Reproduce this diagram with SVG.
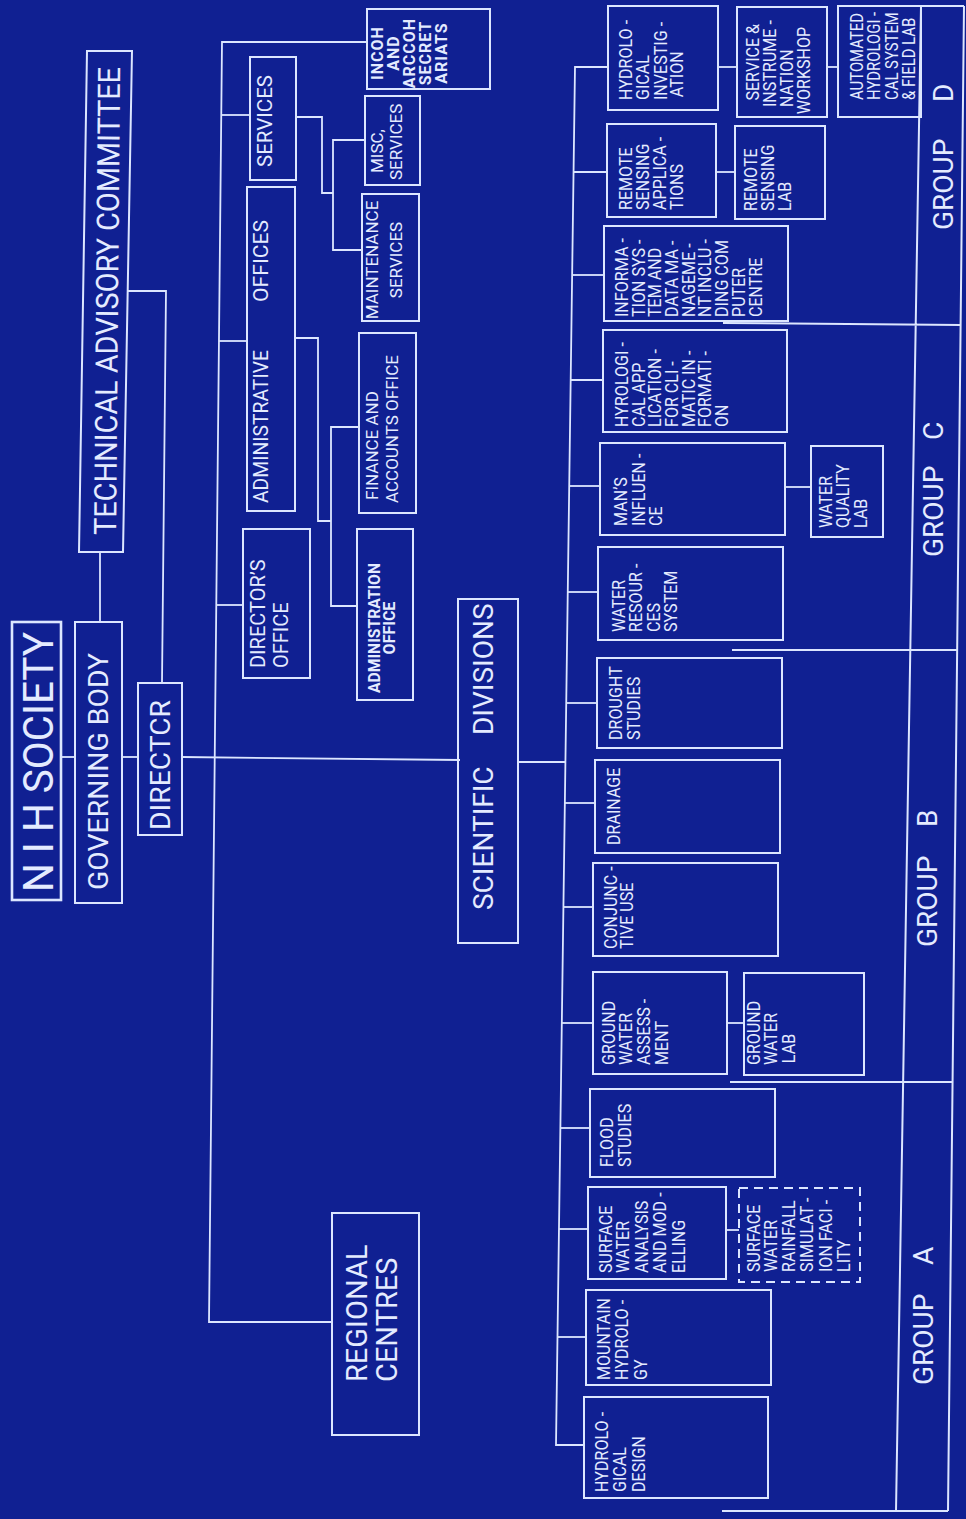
<svg xmlns="http://www.w3.org/2000/svg" width="966" height="1519" viewBox="0 0 966 1519">
<style>
.bg{fill:#102092}
.b{fill:none;stroke:#dce6ff;stroke-width:2}
.dash{stroke-dasharray:9 6}
.k{fill:none;stroke:#dce6ff;stroke-width:1.8}
text{font-family:Roboto,"Liberation Sans",Arial,sans-serif;fill:#e4ebff}
.s{font-size:17.5px}
.m{font-size:17px}
.l{font-size:28px}
.c{text-anchor:middle}
.w{font-weight:bold}
</style>
<rect class="bg" x="0" y="0" width="966" height="1519"/>

<g id="connectors" class="k">
<path d="M61,757 H75"/>
<path d="M122,757 H138"/>
<path d="M100,622 V552"/>
<path d="M128,291 H166 L162,683"/>
<path d="M182,757 L460,760"/>
<path d="M366,42 H222 L209,1322 H333"/>
<path d="M221,115 H250"/>
<path d="M219,341 H247"/>
<path d="M216,605 H243"/>
<path d="M296,117 H322 V193 H333"/>
<path d="M365,140 H333 V250 H362"/>
<path d="M295,338 H318 V521 H331"/>
<path d="M359,427 H331 V606 H357"/>
<path d="M608,67 H575 L556,1445 H584"/>
<path d="M573.6,172 H607"/>
<path d="M572.1,275 H604"/>
<path d="M570.7,380 H603"/>
<path d="M569.2,486 H600"/>
<path d="M567.8,592 H598"/>
<path d="M566.2,703 H597"/>
<path d="M518,762 H565.4"/>
<path d="M564.9,803 H595"/>
<path d="M563.4,907 H593"/>
<path d="M561.8,1023 H593"/>
<path d="M560.4,1128 H590"/>
<path d="M559,1229 H588"/>
<path d="M557.5,1337 H586"/>
<path d="M718,67 H737"/>
<path d="M827,67 H838"/>
<path d="M716,172 H735"/>
<path d="M785,487 H811"/>
<path d="M727,1023 H744"/>
<path d="M726,1230 H739"/>
</g>

<g id="group-frame">
<path class="b" d="M838,6 H964 M921,6 L896,1511 M964,6 L948,1511 M722,1511 H948 M723,323 L961,325 M732,650 H957 M730,1082 H952"/>
<text class="l" transform="translate(953,230) rotate(-90)"><tspan x="0">GROUP</tspan><tspan x="128">D</tspan></text>
<text class="l" transform="translate(943,557) rotate(-90)"><tspan x="0">GROUP</tspan><tspan x="117">C</tspan></text>
<text class="l" transform="translate(937,947) rotate(-90)"><tspan x="0">GROUP</tspan><tspan x="120">B</tspan></text>
<text class="l" transform="translate(933,1385) rotate(-90)"><tspan x="0">GROUP</tspan><tspan x="120">A</tspan></text>
</g>

<g id="nih-society"><rect class="b" x="12" y="622" width="49" height="278" style="stroke-width:2.6"/><text transform="translate(53,892) rotate(-90)" font-size="42" textLength="260" lengthAdjust="spacingAndGlyphs">N I H SOCIETY</text></g>
<g id="governing-body"><rect class="b" x="75" y="622" width="47" height="281"/><text class="l" transform="translate(108,890) rotate(-90)" textLength="237" lengthAdjust="spacingAndGlyphs">GOVERNING BODY</text></g>
<g id="director"><rect class="b" x="138" y="683" width="44" height="152"/><text class="l" transform="translate(170,830) rotate(-90)" textLength="130" lengthAdjust="spacingAndGlyphs">DIRECTCR</text></g>
<g id="technical-advisory-committee"><path class="b" d="M87,51 H132 L123,552 H79 Z"/><text transform="translate(116,535) rotate(-89.5)" font-size="31" textLength="468" lengthAdjust="spacingAndGlyphs">TECHNICAL ADVISORY COMMITTEE</text></g>

<g id="services"><rect class="b" x="250" y="57" width="46" height="123"/><text transform="translate(272,167) rotate(-90)" font-size="21" textLength="92" lengthAdjust="spacingAndGlyphs">SERVICES</text></g>
<g id="administrative-offices"><rect class="b" x="247" y="187" width="48" height="324"/><text transform="translate(268,503) rotate(-90)" font-size="21" textLength="153" lengthAdjust="spacingAndGlyphs">ADMINISTRATIVE</text><text transform="translate(268,302) rotate(-90)" font-size="21" textLength="82" lengthAdjust="spacingAndGlyphs">OFFICES</text></g>
<g id="directors-office"><rect class="b" x="243" y="529" width="67" height="149"/><text transform="translate(265,668) rotate(-90)" font-size="20"><tspan x="0" y="0">DIRECTOR&#8217;S</tspan><tspan x="0" y="23">OFFICE</tspan></text></g>
<g id="incoh-arccoh"><rect class="b" x="367" y="9" width="123" height="80"/><text class="c w" transform="translate(383,53) rotate(-90)" font-size="16" letter-spacing="1"><tspan x="0" y="0">INCOH</tspan><tspan x="0" y="16">AND</tspan><tspan x="0" y="32">ARCCOH</tspan><tspan x="0" y="48">SECRET</tspan><tspan x="0" y="64">ARIATS</tspan></text></g>
<g id="misc-services"><rect class="b" x="365" y="96" width="55" height="89"/><text class="m" transform="translate(383,173) rotate(-90)"><tspan x="0" y="0">MISC,</tspan><tspan x="-7" y="19">SERVICES</tspan></text></g>
<g id="maintenance-services"><rect class="b" x="362" y="194" width="57" height="127"/><text class="m c" transform="translate(378,260) rotate(-90)"><tspan x="0" y="0">MAINTENANCE</tspan><tspan x="0" y="24">SERVICES</tspan></text></g>
<g id="finance-accounts"><rect class="b" x="359" y="333" width="57" height="180"/><text class="m" transform="translate(378,500) rotate(-90)"><tspan x="0" y="0">FINANCE AND</tspan><tspan x="-3" y="20">ACCOUNTS OFFICE</tspan></text></g>
<g id="administration-office"><rect class="b" x="357" y="529" width="56" height="171"/><text class="c w" transform="translate(380,628) rotate(-90)" font-size="16" textLength="130" lengthAdjust="spacingAndGlyphs">ADMINISTRATION</text><text class="c w" transform="translate(395,628) rotate(-90)" font-size="16">OFFICE</text></g>
<g id="regional-centres"><rect class="b" x="332" y="1213" width="87" height="222"/><text transform="translate(367,1382) rotate(-90)" font-size="29"><tspan x="0" y="0">REGIONAL</tspan><tspan x="0" y="30">CENTRES</tspan></text></g>

<g id="scientific-divisions"><rect class="b" x="458" y="599" width="60" height="344"/><text class="l" transform="translate(493,910) rotate(-90)"><tspan x="0">SCIENTIFIC</tspan><tspan x="175">DIVISIONS</tspan></text></g>

<g id="hydrological-investigation"><rect class="b" x="608" y="6" width="110" height="104"/><text class="s" transform="translate(632,100) rotate(-90) scale(0.92,1)"><tspan x="0" y="0">HYDROLO -</tspan><tspan x="0" y="16.7">GICAL</tspan><tspan x="0" y="35">INVESTIG -</tspan><tspan x="3" y="51.5">ATION</tspan></text></g>
<g id="service-instrumentation-workshop"><rect class="b" x="737" y="7" width="90" height="110"/><text class="s" transform="translate(759,107) rotate(-90) scale(0.92,1)"><tspan x="7" y="0">SERVICE &amp;</tspan><tspan x="0" y="17">INSTRUME -</tspan><tspan x="0" y="34">NATION</tspan><tspan x="-8" y="51">WORKSHOP</tspan></text></g>
<g id="automated-hydrological-system"><rect class="b" x="838" y="6" width="83" height="111"/><text class="s" transform="translate(863,100) rotate(-90) scale(0.85,1)"><tspan x="0" y="0">AUTOMATED</tspan><tspan x="0" y="17.5">HYDROLOGI -</tspan><tspan x="0" y="35">CAL SYSTEM</tspan><tspan x="0" y="52.5">&amp; FIELD LAB</tspan></text></g>
<g id="remote-sensing-applications"><rect class="b" x="607" y="124" width="109" height="93"/><text class="s" transform="translate(632,210) rotate(-90) scale(0.92,1)"><tspan x="0" y="0">REMOTE</tspan><tspan x="0" y="16.5">SENSING</tspan><tspan x="0" y="34.5">APPLICA -</tspan><tspan x="0" y="51">TIONS</tspan></text></g>
<g id="remote-sensing-lab"><rect class="b" x="735" y="126" width="90" height="93"/><text class="s" transform="translate(757,211) rotate(-90) scale(0.92,1)"><tspan x="0" y="0">REMOTE</tspan><tspan x="0" y="17">SENSING</tspan><tspan x="0" y="34">LAB</tspan></text></g>
<g id="information-system"><rect class="b" x="604" y="226" width="184" height="95"/><text class="s" transform="translate(628,317) rotate(-90) scale(0.92,1)"><tspan x="0" y="0">INFORMA -</tspan><tspan x="0" y="16.7">TION SYS -</tspan><tspan x="0" y="33.4">TEM AND</tspan><tspan x="0" y="50.1">DATA MA -</tspan><tspan x="0" y="66.8">NAGEME -</tspan><tspan x="0" y="83.5">NT INCLU -</tspan><tspan x="0" y="100.2">DING COM</tspan><tspan x="0" y="116.9">PUTER</tspan><tspan x="0" y="134.5">CENTRE</tspan></text></g>
<g id="hydrological-application-climatic"><rect class="b" x="603" y="330" width="184" height="102"/><text class="s" transform="translate(628,427) rotate(-90) scale(0.92,1)"><tspan x="0" y="0">HYROLOGI -</tspan><tspan x="0" y="16.7">CAL APP</tspan><tspan x="0" y="33.4">LICATION -</tspan><tspan x="0" y="50.1">FOR CLI -</tspan><tspan x="0" y="66.8">MATIC IN -</tspan><tspan x="0" y="83.5">FORMATI -</tspan><tspan x="0" y="100.2">ON</tspan></text></g>
<g id="mans-influence"><rect class="b" x="600" y="443" width="185" height="92"/><text class="s" transform="translate(627,526) rotate(-90) scale(0.92,1)"><tspan x="0" y="0">MAN&#8217;S</tspan><tspan x="0" y="18">INFLUEN -</tspan><tspan x="0" y="35">CE</tspan></text></g>
<g id="water-quality-lab"><rect class="b" x="811" y="446" width="72" height="91"/><text class="s" transform="translate(832,528) rotate(-90) scale(0.92,1)"><tspan x="0" y="0">WATER</tspan><tspan x="0" y="16.6">QUALITY</tspan><tspan x="0" y="35">LAB</tspan></text></g>
<g id="water-resources-system"><rect class="b" x="598" y="547" width="185" height="93"/><text class="s" transform="translate(625,632) rotate(-90) scale(0.92,1)"><tspan x="0" y="0">WATER</tspan><tspan x="0" y="16.7">RESOUR -</tspan><tspan x="0" y="35">CES</tspan><tspan x="0" y="51.7">SYSTEM</tspan></text></g>
<g id="drought-studies"><rect class="b" x="597" y="658" width="185" height="90"/><text class="s" transform="translate(622,740) rotate(-90) scale(0.92,1)"><tspan x="0" y="0">DROUGHT</tspan><tspan x="0" y="18">STUDIES</tspan></text></g>
<g id="drainage"><rect class="b" x="595" y="760" width="185" height="93"/><text class="s" transform="translate(620,845) rotate(-90) scale(0.92,1)">DRAINAGE</text></g>
<g id="conjunctive-use"><rect class="b" x="593" y="863" width="185" height="93"/><text class="s" transform="translate(617,949) rotate(-90) scale(0.92,1)"><tspan x="0" y="0">CONJUNC -</tspan><tspan x="0" y="16">TIVE USE</tspan></text></g>
<g id="ground-water-assessment"><rect class="b" x="593" y="972" width="134" height="102"/><text class="s" transform="translate(615,1065) rotate(-90) scale(0.92,1)"><tspan x="0" y="0">GROUND</tspan><tspan x="0" y="17.5">WATER</tspan><tspan x="0" y="35">ASSESS -</tspan><tspan x="0" y="53">MENT</tspan></text></g>
<g id="ground-water-lab"><rect class="b" x="744" y="973" width="120" height="102"/><text class="s" transform="translate(760,1065) rotate(-90) scale(0.92,1)"><tspan x="0" y="0">GROUND</tspan><tspan x="0" y="16.7">WATER</tspan><tspan x="2" y="35">LAB</tspan></text></g>
<g id="flood-studies"><rect class="b" x="590" y="1089" width="185" height="88"/><text class="s" transform="translate(613,1167) rotate(-90) scale(0.92,1)"><tspan x="0" y="0">FLOOD</tspan><tspan x="0" y="18">STUDIES</tspan></text></g>
<g id="surface-water-analysis"><rect class="b" x="588" y="1187" width="138" height="92"/><text class="s" transform="translate(612,1273) rotate(-90) scale(0.92,1)"><tspan x="0" y="0">SURFACE</tspan><tspan x="0" y="17">WATER</tspan><tspan x="0" y="36">ANALYSIS</tspan><tspan x="0" y="54.5">AND MOD -</tspan><tspan x="0" y="73">ELLING</tspan></text></g>
<g id="rainfall-simulation-facility"><rect class="b dash" x="739" y="1188" width="121" height="94"/><text class="s" transform="translate(760,1272) rotate(-90) scale(0.92,1)"><tspan x="0" y="0">SURFACE</tspan><tspan x="0" y="17">WATER</tspan><tspan x="0" y="35">RAINFALL</tspan><tspan x="0" y="53">SIMULAT -</tspan><tspan x="0" y="72">ION FACI -</tspan><tspan x="0" y="90">LITY</tspan></text></g>
<g id="mountain-hydrology"><rect class="b" x="586" y="1290" width="185" height="95"/><text class="s" transform="translate(610,1380) rotate(-90) scale(0.92,1)"><tspan x="0" y="0">MOUNTAIN</tspan><tspan x="0" y="18.3">HYDROLO -</tspan><tspan x="0" y="36.7">GY</tspan></text></g>
<g id="hydrological-design"><rect class="b" x="584" y="1397" width="184" height="101"/><text class="s" transform="translate(608,1492) rotate(-90) scale(0.92,1)"><tspan x="0" y="0">HYDROLO -</tspan><tspan x="0" y="18.4">GICAL</tspan><tspan x="0" y="36.7">DESIGN</tspan></text></g>
</svg>
